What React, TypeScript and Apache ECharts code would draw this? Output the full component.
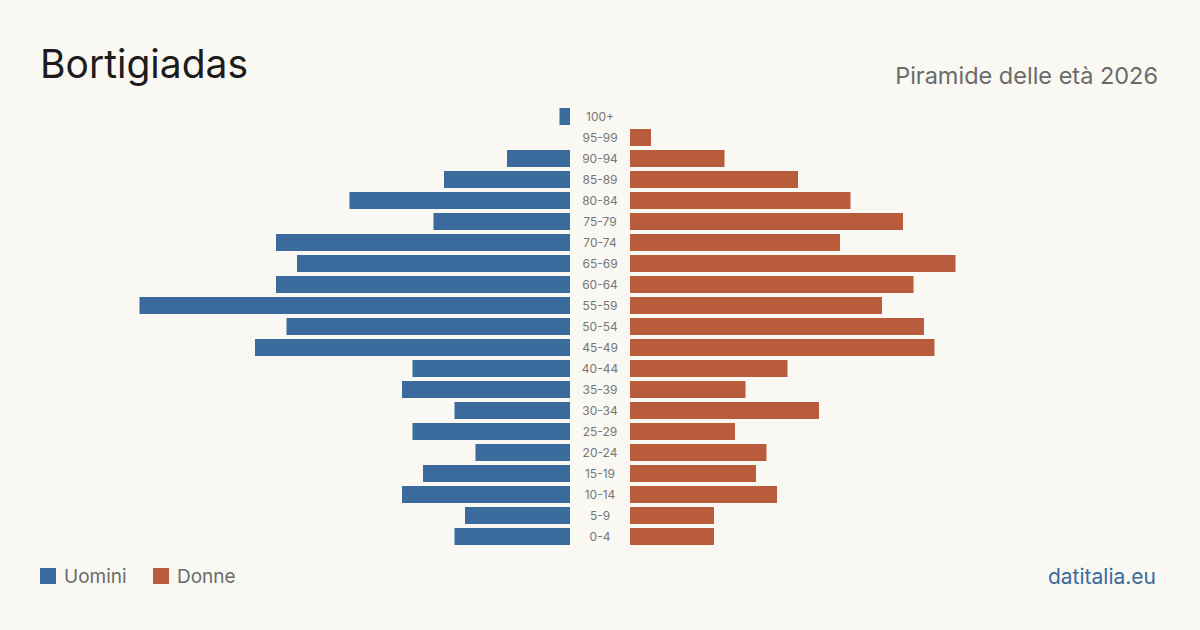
import React, { useEffect, useRef } from "react";
import * as echarts from "echarts";

const categories = ["100+", "95-99", "90-94", "85-89", "80-84", "75-79", "70-74", "65-69", "60-64", "55-59", "50-54", "45-49", "40-44", "35-39", "30-34", "25-29", "20-24", "15-19", "10-14", "5-9", "0-4"];
const uomini = [1, 0, 6, 12, 21, 13, 28, 26, 28, 41, 27, 30, 15, 16, 11, 15, 9, 14, 16, 10, 11];
const donne = [0, 2, 9, 16, 21, 26, 20, 31, 27, 24, 28, 29, 15, 11, 18, 10, 13, 12, 14, 8, 8];

const BLUE = "#3b6a9c";
const ORANGE = "#b95c3c";
const BG = "#f9f8f3";
const FONT = "Inter, 'Liberation Sans', sans-serif";

export default function App() {
  const ref = useRef<HTMLDivElement>(null);
  useEffect(() => {
    const chart = echarts.init(ref.current!, undefined, { renderer: "svg" });
    const cats = categories.slice().reverse();
    const u = uomini.slice().reverse();
    const d = donne.slice().reverse();
    chart.setOption({
      animation: false,
      backgroundColor: BG,
      grid: [
        { left: 45, right: 630, top: 106, bottom: 630 - 547 },
        { left: 630, right: 45, top: 106, bottom: 630 - 547 },
      ],
      xAxis: [
        { gridIndex: 0, type: "value", min: 0, max: 50, inverse: true, show: false },
        { gridIndex: 1, type: "value", min: 0, max: 50, show: false },
      ],
      yAxis: [
        {
          gridIndex: 0, type: "category", data: cats, position: "right",
          axisLine: { show: false }, axisTick: { show: false },
          axisLabel: { show: true, margin: 30, align: "center", color: "#777", fontSize: 12, fontFamily: FONT },
        },
        { gridIndex: 1, type: "category", data: cats, show: false },
      ],
      series: [
        { type: "bar", name: "Uomini", xAxisIndex: 0, yAxisIndex: 0, data: u, barWidth: 17, itemStyle: { color: BLUE } },
        { type: "bar", name: "Donne", xAxisIndex: 1, yAxisIndex: 1, data: d, barWidth: 17, itemStyle: { color: ORANGE } },
      ],
      graphic: [
        { type: "text", left: 40, top: 44, style: { text: "Bortigiadas", fontSize: 39, fill: "#1c1c1c", fontFamily: FONT } },
        { type: "text", right: 42, top: 63, style: { text: "Piramide delle età 2026", fontSize: 23.5, fill: "#6b6b6b", fontFamily: FONT } },
        { type: "rect", shape: { x: 40, y: 568, width: 16, height: 16 }, style: { fill: BLUE } },
        { type: "text", left: 64, top: 567, style: { text: "Uomini", fontSize: 19, fill: "#6b6b6b", fontFamily: FONT } },
        { type: "rect", shape: { x: 153, y: 568, width: 16, height: 16 }, style: { fill: ORANGE } },
        { type: "text", left: 177, top: 567, style: { text: "Donne", fontSize: 19, fill: "#6b6b6b", fontFamily: FONT } },
        { type: "text", right: 44, top: 566, style: { text: "datitalia.eu", fontSize: 21, fill: BLUE, fontFamily: FONT } },
      ],
    });
    return () => chart.dispose();
  }, []);
  return <div ref={ref} style={{ width: 1200, height: 630, position: "absolute", left: 0, top: 0 }} />;
}
